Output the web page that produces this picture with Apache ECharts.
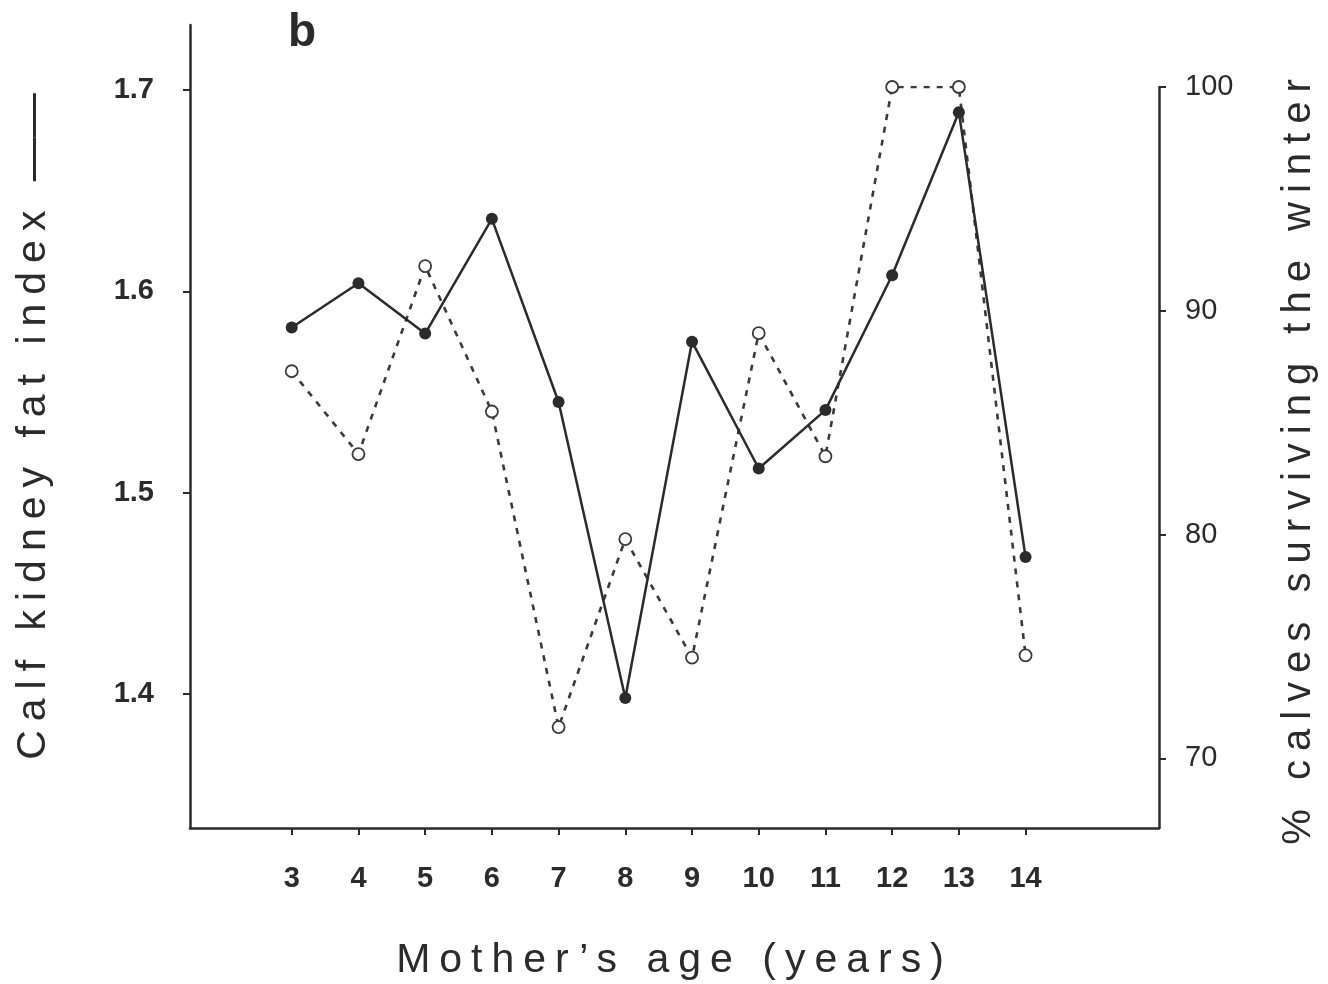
<!DOCTYPE html>
<html>
<head>
<meta charset="utf-8">
<script src="https://cdn.jsdelivr.net/npm/echarts@6/dist/echarts.min.js"></script>
<style>
html,body{margin:0;padding:0;background:#fff;}
#chart{width:1328px;height:984px;}
</style>
</head>
<body>
<div id="chart"></div>
<script>
// Data
const ages = [3, 4, 5, 6, 7, 8, 9, 10, 11, 12, 13, 14];
const kidneyFat = [1.582, 1.604, 1.579, 1.636, 1.545, 1.398, 1.575, 1.512, 1.541, 1.608, 1.689, 1.468];
const survival = [87.3, 83.6, 92.0, 85.5, 71.4, 79.8, 74.5, 89.0, 83.5, 100, 100, 74.6];
const leftTicks = [1.4, 1.5, 1.6, 1.7];
const rightTicks = [70, 80, 90, 100];
const xTicks = ages;

// Wide letter spacing for the axis titles (drawn at 40/41px only), none elsewhere
(function () {
  const SP = 9;
  const spaced = f => /\b4[01]px/.test(f);
  const proto = CanvasRenderingContext2D.prototype;
  const origFill = proto.fillText;
  const origMeasure = proto.measureText;
  function setLS(ctx, want) {
    if ('letterSpacing' in ctx && ctx.letterSpacing !== want) {
      const f = ctx.font;
      ctx.letterSpacing = want;
      ctx.font = f;
    }
  }
  proto.fillText = function (t, x, y, w) {
    setLS(this, spaced(this.font) ? SP + 'px' : '0px');
    return (w === undefined) ? origFill.call(this, t, x, y) : origFill.call(this, t, x, y, w);
  };
  proto.measureText = function (t) {
    setLS(this, '0px');
    const m = origMeasure.call(this, t);
    if (spaced(this.font) && 'letterSpacing' in this) {
      const extra = String(t).length * SP;
      return {
        width: m.width + extra,
        actualBoundingBoxLeft: m.actualBoundingBoxLeft,
        actualBoundingBoxRight: m.actualBoundingBoxRight + extra,
        actualBoundingBoxAscent: m.actualBoundingBoxAscent,
        actualBoundingBoxDescent: m.actualBoundingBoxDescent,
        fontBoundingBoxAscent: m.fontBoundingBoxAscent,
        fontBoundingBoxDescent: m.fontBoundingBoxDescent
      };
    }
    return m;
  };
})();

const ink = '#2b2b2b';
const tickFont = {fontFamily: 'Liberation Sans, Arial', fontWeight: 'bold', fontSize: 29, color: ink};
const titleFont = {fontFamily: 'Liberation Sans, Arial', fontSize: 41, color: ink};

const chart = echarts.init(document.getElementById('chart'), null, {renderer: 'canvas'});
chart.setOption({
  backgroundColor: '#ffffff',
  animation: false,
  title: {
    text: 'b', left: 283, top: 5,
    textStyle: {fontFamily: 'Liberation Sans, Arial', fontWeight: 'bold', fontSize: 46, color: ink}
  },
  grid: [
    {left: 190, right: 169, top: 25, bottom: 156, outerBoundsMode: 'none', containLabel: false},
    {left: 190, right: 169, top: 87, bottom: 156, outerBoundsMode: 'none', containLabel: false}
  ],
  xAxis: [
    {
      type: 'value', gridIndex: 0, min: 1.475, max: 16.0,
      axisLine: {show: true, lineStyle: {color: ink, width: 2.5}},
      axisTick: {show: true, customValues: xTicks, length: 7, lineStyle: {color: ink, width: 2}},
      axisLabel: Object.assign({customValues: xTicks, margin: 36}, tickFont),
      splitLine: {show: false},
      name: 'Mother’s age (years)', nameLocation: 'middle', nameGap: 108,
      nameTextStyle: titleFont
    },
    {
      type: 'value', gridIndex: 1, min: 1.475, max: 16.0, show: false
    }
  ],
  yAxis: [
    {
      type: 'value', gridIndex: 0, position: 'left', min: 1.3334, max: 1.7323,
      axisLine: {show: true, lineStyle: {color: ink, width: 2.5}},
      axisTick: {show: true, customValues: leftTicks, length: 7, lineStyle: {color: ink, width: 2}},
      axisLabel: Object.assign({customValues: leftTicks, margin: 36, formatter: v => v.toFixed(1)}, tickFont),
      splitLine: {show: false},
      name: '{t|Calf kidney fat index }{d|——}', nameLocation: 'middle', nameGap: 131, nameRotate: 90,
      nameTextStyle: {
        rich: {
          t: titleFont,
          d: {fontFamily: 'Liberation Sans, Arial', fontSize: 44, color: ink}
        }
      }
    },
    {
      type: 'value', gridIndex: 1, position: 'right', min: 66.89, max: 100,
      axisLine: {show: true, lineStyle: {color: ink, width: 2.5}},
      axisTick: {show: true, customValues: rightTicks, length: 7, lineStyle: {color: ink, width: 2}},
      axisLabel: Object.assign({customValues: rightTicks, margin: 26}, tickFont, {fontWeight: 'normal'}),
      splitLine: {show: false},
      name: '% calves surviving the winter', nameLocation: 'middle', nameGap: 115, nameRotate: 90,
      nameTextStyle: Object.assign({}, titleFont, {fontSize: 40})
    }
  ],
  series: [
    {
      type: 'line', xAxisIndex: 1, yAxisIndex: 1,
      data: ages.map((a, i) => [a, survival[i]]),
      symbol: 'circle', symbolSize: 12,
      itemStyle: {color: '#ffffff', borderColor: '#3a3a3a', borderWidth: 1.8},
      lineStyle: {color: '#3a3a3a', width: 2.6, type: [6, 7]},
      z: 2
    },
    {
      type: 'line', xAxisIndex: 0, yAxisIndex: 0,
      data: ages.map((a, i) => [a, kidneyFat[i]]),
      symbol: 'circle', symbolSize: 12,
      itemStyle: {color: '#2b2b2b', borderColor: '#2b2b2b', borderWidth: 0},
      lineStyle: {color: '#2b2b2b', width: 2.5},
      z: 3
    }
  ]
});
</script>
</body>
</html>
